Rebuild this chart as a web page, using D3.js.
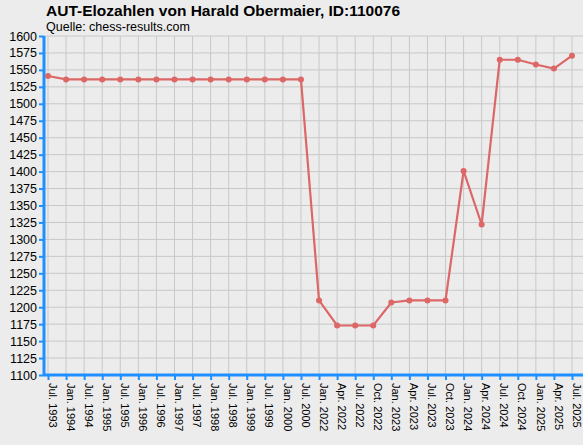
<!DOCTYPE html><html><head><meta charset="utf-8"><script src="https://cdn.jsdelivr.net/npm/d3@7"></script>
<style>body{margin:0;background:#ececec}text{font-family:"Liberation Sans",Arial,sans-serif}</style></head><body><svg id="c" width="583" height="445"></svg><script>
const categories=["Jul. 1993","Jan. 1994","Jul. 1994","Jan. 1995","Jul. 1995","Jan. 1996","Jul. 1996","Jan. 1997","Jul. 1997","Jan. 1998","Jul. 1998","Jan. 1999","Jul. 1999","Jan. 2000","Jul. 2000","Jan. 2022","Apr. 2022","Jul. 2022","Oct. 2022","Jan. 2023","Apr. 2023","Jul. 2023","Oct. 2023","Jan. 2024","Apr. 2024","Jul. 2024","Oct. 2024","Jan. 2025","Apr. 2025","Jul. 2025"];
const values=[1541,1536,1536,1536,1536,1536,1536,1536,1536,1536,1536,1536,1536,1536,1536,1210,1173,1173,1173,1207,1210,1210,1210,1401,1322,1565,1565,1558,1552,1571];
const yTicks=d3.range(1100,1601,25);
const svg=d3.select("#c");
svg.append("rect").attr("width",583).attr("height",445).attr("fill","#ececec");
const L=44,R=583,T=36,B=375;
const x=d3.scalePoint().domain(categories).range([48,572]);
const y=d3.scaleLinear().domain([1100,1600]).range([B,T]);
const g=svg.append("g");
g.selectAll(".hg").data(yTicks).join("line").attr("x1",L).attr("x2",R).attr("y1",d=>y(d)).attr("y2",d=>y(d)).attr("stroke","#c8c8c8");
g.selectAll(".vg").data(categories).join("line").attr("x1",d=>x(d)).attr("x2",d=>x(d)).attr("y1",T).attr("y2",B).attr("stroke","#c8c8c8");
const ya=svg.append("g").attr("transform",`translate(${L},0)`).call(d3.axisLeft(y).tickValues(yTicks).tickFormat(d3.format("d")).tickSize(5).tickPadding(2));
ya.selectAll("text").attr("font-size",12.5).attr("fill","#000");
const xa=svg.append("g").attr("transform",`translate(0,${B})`).call(d3.axisBottom(x).tickSize(5));
xa.selectAll("text").attr("font-size",11).attr("fill","#000").attr("transform","rotate(90)").attr("text-anchor","start").attr("x",8).attr("y",-4).attr("dy","0.35em");
[ya,xa].forEach(a=>{a.selectAll("line").attr("stroke","#1e90ff").attr("stroke-width",2);a.select(".domain").remove();});
svg.append("line").attr("x1",L).attr("x2",R).attr("y1",B).attr("y2",B).attr("stroke","#1e90ff").attr("stroke-width",3);
svg.append("line").attr("x1",L).attr("x2",L).attr("y1",T).attr("y2",B).attr("stroke","#1e90ff").attr("stroke-width",3);
svg.append("path").datum(values).attr("fill","none").attr("stroke","#dd6666").attr("stroke-width",2.2)
 .attr("d",d3.line().x((d,i)=>x(categories[i])).y(d=>y(d)));
svg.selectAll(".pt").data(values).join("circle").attr("cx",(d,i)=>x(categories[i])).attr("cy",d=>y(d)).attr("r",3).attr("fill","#dd6666");
svg.append("text").attr("x",46).attr("y",16).attr("font-size",15.5).attr("font-weight","bold").text("AUT-Elozahlen von Harald Obermaier, ID:110076");
svg.append("text").attr("x",46).attr("y",31).attr("font-size",12.5).text("Quelle: chess-results.com");
</script></body></html>
